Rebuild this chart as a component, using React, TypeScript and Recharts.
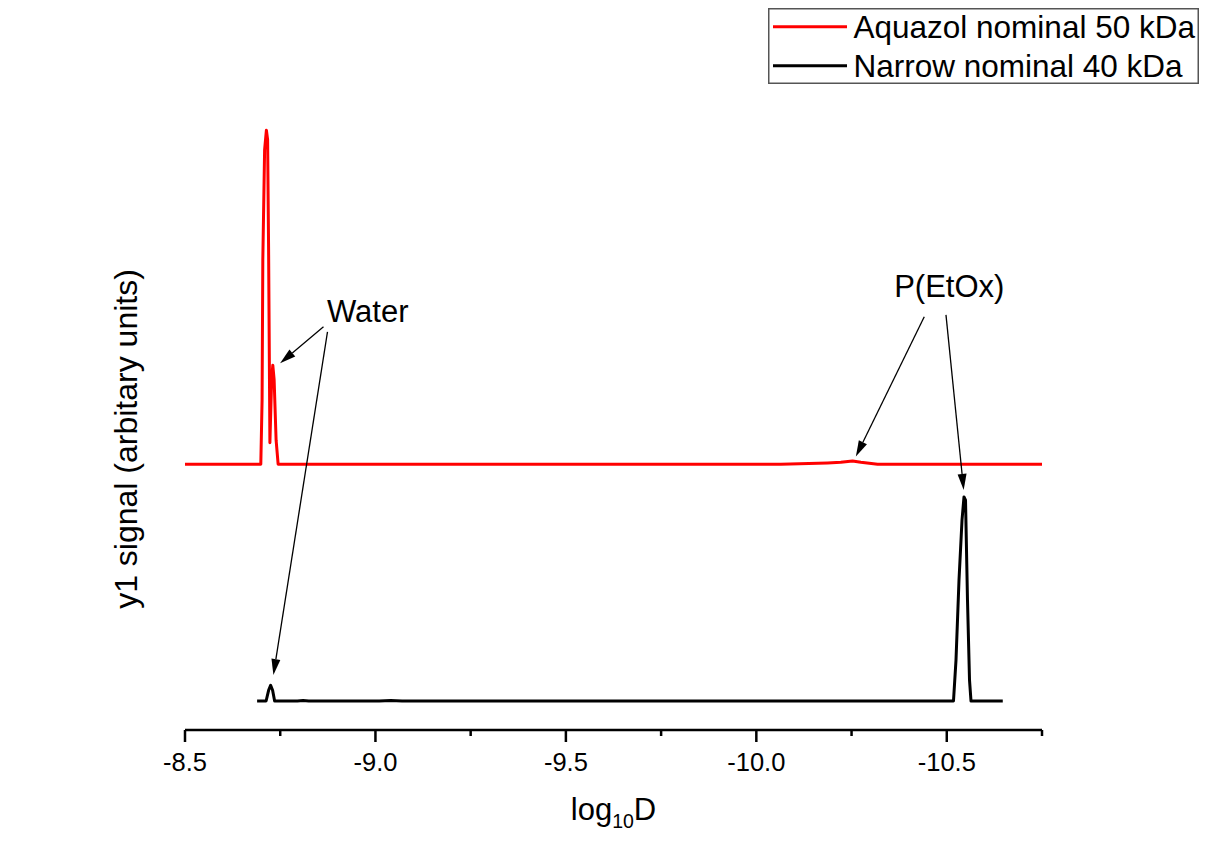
import React from 'react';
import { LineChart, Line, XAxis, YAxis, Legend, ReferenceLine, ReferenceDot } from 'recharts';

const FONT = "'Liberation Sans', Arial, Helvetica, sans-serif";

// Series 1: Aquazol nominal 50 kDa (red)
const aquazolX = [-8.5, -8.699, -8.7024, -8.7043, -8.709, -8.7137, -8.7169, -8.7195, -8.7229, -8.7274, -8.7305, -8.734, -8.7392, -8.7445, -10.0641, -10.1869, -10.2219, -10.2526, -10.2744, -10.3184, -10.75];
const aquazolY = [42.2, 42.2, 52.4, 74.6, 92.1, 95.2, 93.7, 76.2, 45.6, 55.6, 57.9, 55.6, 46.0, 42.2, 42.2, 42.4, 42.5, 42.7, 42.5, 42.2, 42.2];

// Series 2: Narrow nominal 40 kDa (black)
const narrowX = [-8.6893, -8.7129, -8.7195, -8.7248, -8.73, -8.7353, -8.795, -8.81, -8.825, -9.01, -9.04, -9.07, -10.4847, -10.5176, -10.5242, -10.5321, -10.54, -10.5452, -10.5492, -10.5544, -10.5597, -10.5636, -10.647];
const narrowY = [4.6, 4.6, 6.3, 7.1, 6.3, 4.6, 4.6, 4.68, 4.6, 4.6, 4.68, 4.6, 4.6, 4.6, 11.1, 23.8, 33.3, 37.0, 36.5, 20.6, 7.9, 4.6, 4.6];

const seriesNames = ['Aquazol nominal 50 kDa', 'Narrow nominal 40 kDa'];
const seriesColors = ['#ff0000', '#000000'];

const majorTicks = [-8.5, -9.0, -9.5, -10.0, -10.5];
const minorTicks = [-8.75, -9.25, -9.75, -10.25, -10.75];
const tickLabels = ['-8.5', '-9.0', '-9.5', '-10.0', '-10.5'];

const annotationTexts = ['Water', 'P(EtOx)'];
const annotationX = [-8.9798, -10.5066];
const annotationY = [64.8, 68.7];

const arrowFromX = [-8.8636, -8.8741, -10.4409, -10.4979];
const arrowFromY = [64.0, 63.2, 65.6, 65.9];
const arrowToX = [-8.7497, -8.7321, -10.2613, -10.5444];
const arrowToY = [58.2, 8.73, 43.4, 38.1];

const aquazolData = aquazolX.map((x, i) => ({ x, y: aquazolY[i] }));
const narrowData = narrowX.map((x, i) => ({ x, y: narrowY[i] }));
const allTicks = [...majorTicks, ...minorTicks].sort((a, b) => b - a);

const Tick = (props: any) => {
  const { x, y, payload } = props;
  const v = payload.value;
  const idx = majorTicks.findIndex((m) => Math.abs(m - v) < 1e-6);
  const major = idx >= 0;
  return (
    <g>
      <line x1={x} y1={y} x2={x} y2={y + (major ? 12 : 6)} stroke="#000" strokeWidth={2.5} />
      {major && (
        <text x={x} y={y + 40.5} textAnchor="middle" fontSize={25.5} fontFamily={FONT} fill="#000">
          {tickLabels[idx]}
        </text>
      )}
    </g>
  );
};

const XLabel = (props: any) => {
  const vb = props.viewBox || {};
  const cx = vb.x + vb.width / 2;
  const by = vb.y + 90;
  return (
    <text x={cx} y={by} textAnchor="middle" fontSize={31} fontFamily={FONT} fill="#000">
      log
      <tspan fontSize={19.5} dy={8}>10</tspan>
      <tspan dy={-8}>D</tspan>
    </text>
  );
};

const YLabel = (props: any) => {
  const vb = props.viewBox || {};
  const x = vb.x + 32;
  const y = vb.y + vb.height / 2 + 24;
  return (
    <text
      x={x}
      y={y}
      transform={`rotate(-90 ${x} ${y})`}
      textAnchor="middle"
      fontSize={32}
      fontFamily={FONT}
      fill="#000"
    >
      y1 signal (arbitary units)
    </text>
  );
};

const Arrow = (p: any) => {
  const x1 = Number(p.x1), y1 = Number(p.y1), x2 = Number(p.x2), y2 = Number(p.y2);
  const dx = x2 - x1, dy = y2 - y1;
  const L = Math.hypot(dx, dy) || 1;
  const ux = dx / L, uy = dy / L;
  const hl = 16, hw = 4.5;
  const bx = x2 - ux * hl, by = y2 - uy * hl;
  const pts = `${x2},${y2} ${bx - uy * hw},${by + ux * hw} ${bx + uy * hw},${by - ux * hw}`;
  return (
    <g>
      <line x1={x1} y1={y1} x2={bx} y2={by} stroke="#000" strokeWidth={1.3} />
      <polygon points={pts} fill="#000" />
    </g>
  );
};

const LegendBox = () => (
  <svg width={431} height={76} style={{ display: 'block' }}>
    <rect x={0.75} y={0.75} width={429.5} height={74.5} fill="#fff" stroke="#555" strokeWidth={1.5} />
    {seriesNames.map((n, i) => (
      <g key={n}>
        <line x1={5} x2={79} y1={18.7 + 39 * i} y2={18.7 + 39 * i} stroke={seriesColors[i]} strokeWidth={3} />
        <text x={85.5} y={30 + 39 * i} fontSize={31.5} fontFamily={FONT} fill="#000">
          {n}
        </text>
      </g>
    ))}
  </svg>
);

export default function App() {
  return (
    <div style={{ position: 'absolute', left: 0, top: 0, background: '#fff' }}>
      <LineChart width={1207} height={848} margin={{ top: 100, right: 165, bottom: 58, left: 105 }}>
        <XAxis
          type="number"
          dataKey="x"
          domain={[-10.75, -8.5]}
          reversed
          allowDataOverflow
          ticks={allTicks}
          interval={0}
          tickSize={0}
          tickMargin={0}
          tickLine={false}
          tick={<Tick />}
          height={60}
          axisLine={{ stroke: '#000', strokeWidth: 2.5 }}
          label={(p: any) => <XLabel {...p} />}
        />
        <YAxis
          type="number"
          domain={[0, 100]}
          allowDataOverflow
          width={80}
          axisLine={false}
          tickLine={false}
          tick={false}
          label={(p: any) => <YLabel {...p} />}
        />
        <Legend
          layout="horizontal"
          verticalAlign="middle"
          align="center"
          wrapperStyle={{ left: 768, top: 8, width: 431, height: 76 }}
          content={() => <LegendBox />}
        />
        <Line
          name={seriesNames[0]}
          data={aquazolData}
          dataKey="y"
          type="linear"
          stroke={seriesColors[0]}
          strokeWidth={3}
          dot={false}
          activeDot={false}
          isAnimationActive={false}
          strokeLinejoin="round"
        />
        <Line
          name={seriesNames[1]}
          data={narrowData}
          dataKey="y"
          type="linear"
          stroke={seriesColors[1]}
          strokeWidth={3}
          dot={false}
          activeDot={false}
          isAnimationActive={false}
          strokeLinejoin="round"
        />
        {arrowFromX.map((fx, i) => (
          <ReferenceLine
            key={`arrow-${i}`}
            segment={[
              { x: fx, y: arrowFromY[i] },
              { x: arrowToX[i], y: arrowToY[i] },
            ]}
            shape={(p: any) => <Arrow {...p} />}
          />
        ))}
        {annotationTexts.map((t, i) => (
          <ReferenceDot
            key={`ann-${i}`}
            x={annotationX[i]}
            y={annotationY[i]}
            r={0}
            shape={(p: any) => (
              <text x={p.cx} y={p.cy} textAnchor="middle" fontSize={31} fontFamily={FONT} fill="#000">
                {t}
              </text>
            )}
          />
        ))}
      </LineChart>
    </div>
  );
}
